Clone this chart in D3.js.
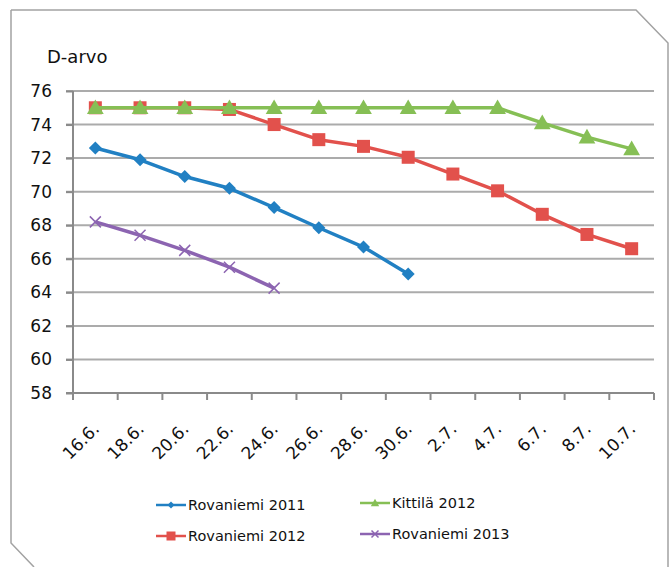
<!DOCTYPE html>
<html>
<head>
<meta charset="utf-8">
<script src="https://cdn.jsdelivr.net/npm/d3@7"></script>
<style>
  body { margin: 0; background: #fff; }
  text { font-family: "DejaVu Sans", sans-serif; fill: #111; }
</style>
</head>
<body>
<script>
const w = 669;
const h = 567;

const categories = ["16.6.", "18.6.", "20.6.", "22.6.", "24.6.", "26.6.", "28.6.", "30.6.", "2.7.", "4.7.", "6.7.", "8.7.", "10.7."];
const yTicks = [58, 60, 62, 64, 66, 68, 70, 72, 74, 76];

const rov2011 = [72.6, 71.9, 70.9, 70.2, 69.05, 67.85, 66.7, 65.1];
const rov2012 = [75, 75, 75, 74.9, 74.0, 73.1, 72.7, 72.05, 71.05, 70.05, 68.65, 67.45, 66.6];
const kit2012 = [75, 75, 75, 75, 75, 75, 75, 75, 75, 75, 74.1, 73.25, 72.55];
const rov2013 = [68.2, 67.4, 66.5, 65.5, 64.25];

const series = [
  { name: "Rovaniemi 2011", values: rov2011, color: "#2180c3", marker: "diamond" },
  { name: "Rovaniemi 2012", values: rov2012, color: "#e2514c", marker: "square" },
  { name: "Kittilä 2012", values: kit2012, color: "#86bf55", marker: "triangle" },
  { name: "Rovaniemi 2013", values: rov2013, color: "#8c64b1", marker: "cross" }
];

const plotLeft = 73, plotRight = 654, plotTop = 91, plotBottom = 393;

const svg = d3.select("body").append("svg")
  .attr("width", w)
  .attr("height", h);

// outer frame with cut corners
svg.append("path")
  .attr("d", "M11,10 L636,10 L668,43 L668,567 M11,10 L11,543 L34,567")
  .attr("fill", "none")
  .attr("stroke", "#a2a2a2")
  .attr("stroke-width", 1.5);

const xScale = d3.scaleBand()
  .domain(categories)
  .range([plotLeft, plotRight]);

const yScale = d3.scaleLinear()
  .domain([58, 76])
  .range([plotBottom, plotTop]);

const cx = (i) => xScale(categories[i]) + xScale.bandwidth() / 2;

// gridlines
svg.append("g")
  .selectAll("line")
  .data(yTicks.filter(d => d !== 58))
  .enter()
  .append("line")
  .attr("x1", plotLeft - 7)
  .attr("x2", plotRight)
  .attr("y1", d => yScale(d))
  .attr("y2", d => yScale(d))
  .attr("stroke", "#ababab")
  .attr("stroke-width", 2);

// y axis
const yAxis = d3.axisLeft(yScale)
  .tickValues(yTicks)
  .tickSize(7)
  .tickPadding(14);

svg.append("g")
  .attr("transform", "translate(" + plotLeft + ",0)")
  .call(yAxis)
  .call(g => g.select(".domain").remove())
  .call(g => g.selectAll(".tick line").attr("stroke", "#8a8a8a").attr("stroke-width", 2))
  .call(g => g.selectAll(".tick text").style("font-size", "17px").attr("fill", "#111"));

svg.append("line")
  .attr("x1", plotLeft).attr("x2", plotLeft)
  .attr("y1", plotTop).attr("y2", plotBottom + 7)
  .attr("stroke", "#8a8a8a")
  .attr("stroke-width", 2);

// x axis
svg.append("line")
  .attr("x1", plotLeft - 7).attr("x2", plotRight)
  .attr("y1", plotBottom).attr("y2", plotBottom)
  .attr("stroke", "#8a8a8a")
  .attr("stroke-width", 2);

const tickPos = categories.map(c => xScale(c)).concat([xScale.range()[1]]);
svg.append("g")
  .selectAll("line")
  .data(tickPos)
  .enter()
  .append("line")
  .attr("x1", d => d).attr("x2", d => d)
  .attr("y1", plotBottom).attr("y2", plotBottom + 7)
  .attr("stroke", "#8a8a8a")
  .attr("stroke-width", 2);

svg.append("g")
  .selectAll("text")
  .data(categories)
  .enter()
  .append("text")
  .attr("transform", (d, i) => "translate(" + (cx(i) + 5) + "," + (plotBottom + 37) + ") rotate(-45)")
  .attr("text-anchor", "end")
  .style("font-size", "17px")
  .text(d => d);

svg.append("text")
  .attr("x", 47)
  .attr("y", 63)
  .style("font-size", "18px")
  .text("D-arvo");

// markers
function drawMarker(g, type, color, size) {
  const s = size / 2;
  if (type === "diamond") {
    g.append("path").attr("d", "M0," + (-s) + " L" + s + ",0 L0," + s + " L" + (-s) + ",0 Z")
      .attr("fill", color);
  } else if (type === "square") {
    g.append("rect").attr("x", -s).attr("y", -s)
      .attr("width", size).attr("height", size).attr("fill", color);
  } else if (type === "triangle") {
    g.append("path").attr("d", "M0," + (-size * 0.6) + " L" + (size * 0.6) + "," + (size * 0.45) + " L" + (-size * 0.6) + "," + (size * 0.45) + " Z")
      .attr("fill", color);
  } else if (type === "cross") {
    g.append("path").attr("d", "M" + (-s) + "," + (-s) + " L" + s + "," + s + " M" + (-s) + "," + s + " L" + s + "," + (-s))
      .attr("stroke", color).attr("stroke-width", 1.5).attr("fill", "none");
  }
}

const line = d3.line()
  .x((d, i) => cx(i))
  .y(d => yScale(d));

const markerSize = { diamond: 13, square: 13, triangle: 14, cross: 11 };

series.forEach(s => {
  svg.append("path")
    .datum(s.values)
    .attr("fill", "none")
    .attr("stroke", s.color)
    .attr("stroke-width", 3.5)
    .attr("stroke-linejoin", "round")
    .attr("d", line);
  s.values.forEach((v, i) => {
    const g = svg.append("g").attr("transform", "translate(" + cx(i) + "," + yScale(v) + ")");
    drawMarker(g, s.marker, s.color, markerSize[s.marker]);
  });
});

// legend
const legendPos = [
  { x: 156, y: 505 },
  { x: 156, y: 536 },
  { x: 360, y: 503 },
  { x: 360, y: 534 }
];

series.forEach((s, i) => {
  const p = legendPos[i];
  const g = svg.append("g").attr("transform", "translate(" + p.x + "," + p.y + ")");
  g.append("line").attr("x1", 0).attr("x2", 30).attr("y1", 0).attr("y2", 0)
    .attr("stroke", s.color).attr("stroke-width", 2.5);
  const mg = g.append("g").attr("transform", "translate(15,0)");
  drawMarker(mg, s.marker, s.color, s.marker === "square" ? 9 : 7);
  g.append("text")
    .attr("x", 32)
    .attr("y", 0)
    .attr("dy", "0.36em")
    .style("font-size", "14.5px")
    .attr("fill", "#222")
    .text(s.name);
});
</script>
</body>
</html>
